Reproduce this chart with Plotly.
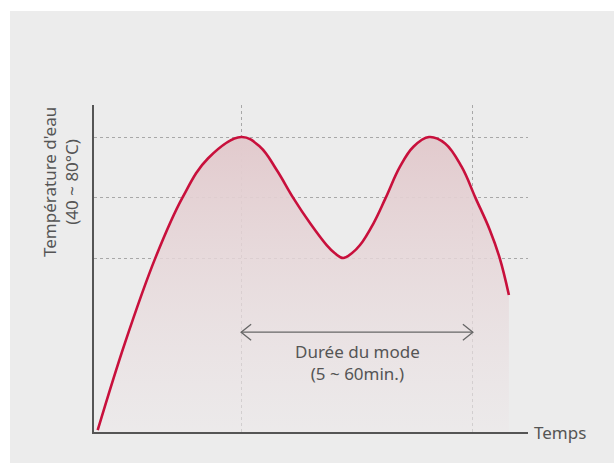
import plotly.graph_objects as go

# ---- data ----
time = [0.85, 7.1, 14.1, 20.35, 26.3, 33.9,
        38.25, 42.1, 45.9, 49.8, 53.6, 55.5, 57.4, 59.4, 61.3, 64.4, 67.2, 70.5, 73.6, 77.2,
        80.9, 84.7, 87.9, 91.2, 93.5, 95.6]
temperature = [-16.9, 11.8, 39.9, 59.9, 73.0, 80.0,
               76.8, 69.1, 59.9, 51.5, 44.3, 41.6, 40.0, 41.6, 44.3, 51.5, 59.9, 70.2, 76.8, 80.0,
               77.9, 70.2, 59.9, 49.3, 39.9, 27.8]
temp_grid = [40, 60, 80]
mode_start = 33.9
mode_end = 87.3

y_min, y_max = -17.5, 90.6
FONT = "Noto Sans"
TXT = "#555555"

fig = go.Figure()

# baseline for the fill
fig.add_trace(go.Scatter(x=[time[0], time[-1]], y=[y_min, y_min], mode="lines",
                         line=dict(width=0), hoverinfo="skip", showlegend=False))
fig.add_trace(go.Scatter(
    x=time, y=temperature, mode="lines",
    line=dict(color="#c8103c", width=2.6, shape="spline", smoothing=1.1, simplify=False),
    fill="tonexty",
    fillgradient=dict(type="vertical",
                      colorscale=[[0, "rgba(236,232,233,0.6)"], [1, "rgba(226,202,205,1)"]]),
    hoverinfo="skip", showlegend=False))

# mode-duration double arrow
arrow_y = 15.5
ax_px = 100 / 434.0
ay_px = (y_max - y_min) / 327.0
shapes = [
    dict(type="line", x0=mode_start, x1=mode_end, y0=arrow_y, y1=arrow_y, xref="x", yref="y",
         line=dict(color="#666666", width=1.3)),
    dict(type="path", xref="x", yref="y",
         path=f"M {mode_start + 10*ax_px},{arrow_y + 8*ay_px} L {mode_start},{arrow_y} L {mode_start + 10*ax_px},{arrow_y - 8*ay_px}",
         line=dict(color="#666666", width=1.3)),
    dict(type="path", xref="x", yref="y",
         path=f"M {mode_end - 10*ax_px},{arrow_y + 8*ay_px} L {mode_end},{arrow_y} L {mode_end - 10*ax_px},{arrow_y - 8*ay_px}",
         line=dict(color="#666666", width=1.3)),
    # white outer strips
    dict(type="rect", xref="paper", yref="paper", x0=-0.3, x1=1.3, y0=(432-11)/327.0, y1=1.5,
         fillcolor="white", line=dict(width=0), layer="below"),
    dict(type="rect", xref="paper", yref="paper", x0=-0.3, x1=(10-94)/434.0, y0=-0.2, y1=1.5,
         fillcolor="white", line=dict(width=0), layer="below"),
]

annotations = [
    dict(text="Durée du mode<br>(5 ~ 60min.)", x=(mode_start + mode_end) / 2, y=5.6,
         xref="x", yref="y", showarrow=False, font=dict(family=FONT, size=17, color=TXT),
         xanchor="center", yanchor="middle"),
    dict(text="Temps", x=1, y=0, xref="paper", yref="paper", xanchor="left", yanchor="middle",
         xshift=4, showarrow=False, font=dict(family=FONT, size=17, color=TXT)),
    dict(text="Température d'eau<br>(40 ~ 80°C)", x=(60-94)/434.0, y=(432-182)/327.0,
         xref="paper", yref="paper", xanchor="center", yanchor="middle", textangle=-90,
         showarrow=False, font=dict(family=FONT, size=17, color=TXT)),
]

fig.update_layout(
    width=614, height=463,
    margin=dict(l=94, r=86, t=105, b=31),
    paper_bgcolor="#ececec", plot_bgcolor="rgba(0,0,0,0)",
    shapes=shapes, annotations=annotations,
    xaxis=dict(range=[0, 100], showline=True, linecolor="#555555", linewidth=1.5,
               tickvals=[mode_start, mode_end], showticklabels=False, ticks="",
               showgrid=True, gridcolor="#a8a8a8", gridwidth=1, griddash="3px,3px",
               zeroline=False, fixedrange=True),
    yaxis=dict(range=[y_min, y_max], showline=True, linecolor="#555555", linewidth=1.5,
               tickvals=temp_grid, showticklabels=False, ticks="",
               showgrid=True, gridcolor="#a8a8a8", gridwidth=1, griddash="3px,3px",
               zeroline=False, fixedrange=True),
    showlegend=False,
)

fig.write_html("out.html", config={"displayModeBar": False},
               post_script="document.body.style.margin='0';")
